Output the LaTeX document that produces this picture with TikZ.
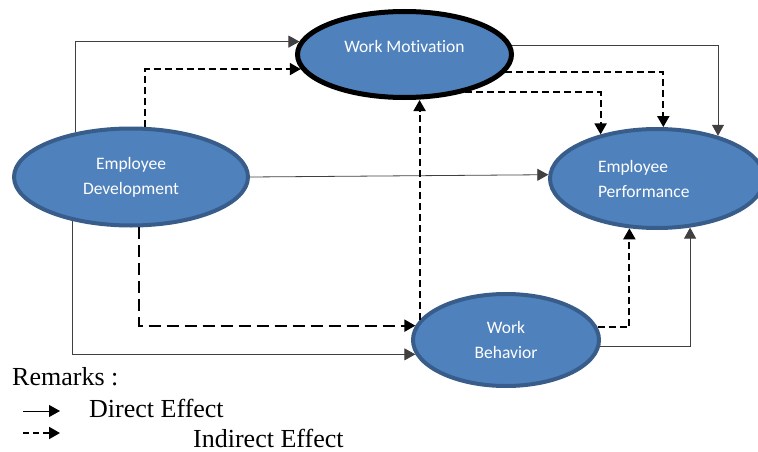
\documentclass[tikz,border=0pt]{standalone}
\usepackage{fontspec}
\setmainfont{Liberation Serif}
\newfontfamily\calibri[Ligatures=NoCommon]{Carlito}
\usetikzlibrary{shapes.geometric,arrows.meta}
\definecolor{varfill}{HTML}{4F81BD}
\definecolor{varline}{HTML}{385D8A}

\begin{document}
\begin{tikzpicture}[x=1pt,y=-1pt,
		var/.style={shape=ellipse,draw=varline,fill=varfill,line width=4pt,inner sep=0pt,
			text=white,font=\calibri\fontsize{17.5}{25}\selectfont,align=center},
		direct/.style={draw=black!75,line width=0.8pt,-{Triangle[length=11pt,width=12pt]}},
		indirect/.style={draw=black,line width=2pt,dash pattern=on 7pt off 4pt,
			-{Triangle[length=11pt,width=12pt]}},
		remark/.style={anchor=base west,inner sep=0pt,font=\fontsize{26}{30}\selectfont}]
			\useasboundingbox (0,0) rectangle (758,452);
			
			% variables
			\node[var,minimum width=234pt,minimum height=97pt] (ed) at (131,177) {Employee\\Development};
			\node[var,draw=black,line width=5pt,minimum width=214pt,minimum height=86pt,text depth=17pt] (wm) at (404.5,54.5) {Work Motivation};
			\node[var,minimum width=214pt,minimum height=99pt,text width=118pt,align=left] (ep) at (657,178.5) {Employee\\Performance};
			\node[var,minimum width=186pt,minimum height=92pt] (wb) at (506,340) {Work\\Behavior};
			
			% direct effects
			\draw[direct] (ed.141) |- (wm.173);
			\draw[direct] (ed.east) -- (ep.178);
			\draw[direct] (ed.217) |- (wb.189);
			\draw[direct] (wm.5) -| (ep.35);
			\draw[direct] (wb.356) -| (ep.304);
			
			% indirect effects
			\draw[indirect] (ed.74) |- (wm.188);
			\draw[indirect,dash pattern=on 12pt off 6pt] (ed.279) |- (wb.171);
			\draw[indirect] (wm.350) -| (ep.83);
			\draw[indirect] (wm.328) -| (ep.142);
			\draw[indirect] (wb.167) -- (wb.167 |- wm.south);
			\draw[indirect] (wb.8) -| (ep.241);
			
			% remarks
			\node[remark] (rem) at (12,385) {Remarks :};
			\node[remark] (dir) at (89,417) {Direct Effect};
			\node[remark] (ind) at (193,447) {Indirect Effect};
			\coordinate (d1) at (23,411);
			\coordinate (d2) at (60,411);
			\coordinate (i1) at (23,433);
			\coordinate (i2) at (60,433);
			\draw[direct,draw=black,line width=1pt] (d1) -- (d2);
			\draw[indirect,dash pattern=on 6pt off 4pt] (i1) -- (i2);
		\end{tikzpicture}
\end{document}
